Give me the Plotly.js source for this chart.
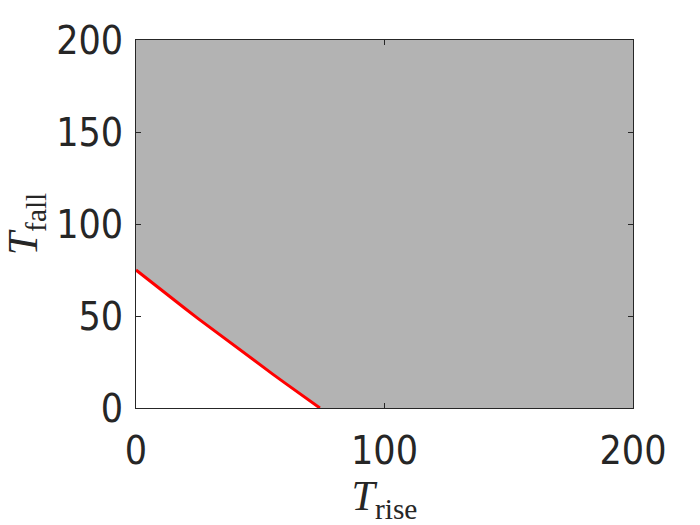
<!DOCTYPE html>
<html>
<head>
<meta charset="utf-8">
<script src="https://cdn.plot.ly/plotly-3.0.1.min.js"></script>
<style>html,body{margin:0;padding:0;background:#fff;}</style>
</head>
<body>
<div id="chart" style="width:700px;height:525px;"></div>
<script>
// Boundary curve (T_rise, T_fall)
const curveRise = [0, 5, 10, 15, 20, 25, 30, 35, 40, 45, 50, 55, 60, 65, 70, 74];
const curveFall = [75, 69.6, 64.3, 59.0, 53.8, 48.6, 43.5, 38.3, 33.3, 28.3, 23.3, 18.4, 13.5, 8.6, 3.9, 0];
// Axis ranges and ticks
const riseRange = [0, 200];
const fallRange = [0, 200];
const yTickVals = [0, 50, 100, 150, 200];
const xTickVals = [0, 100, 200];

// Gray region: above the curve up to the axis limits
const regionX = curveRise.concat([riseRange[1], riseRange[1], riseRange[0]]);
const regionY = curveFall.concat([fallRange[0], fallRange[1], fallRange[1]]);

const tickFont = {family: '"Liberation Sans Narrow", "DejaVu Sans Condensed", Arial, sans-serif', size: 39, color: '#262626'};
const titleFont = {family: '"Liberation Serif", "DejaVu Serif", serif', size: 42, color: '#262626'};

const traces = [
  {x: regionX, y: regionY, type: 'scatter', mode: 'none', fill: 'toself',
   fillcolor: '#b3b3b3', hoverinfo: 'skip', showlegend: false},
  {x: curveRise, y: curveFall, type: 'scatter', mode: 'lines',
   line: {color: '#ff0000', width: 3}, showlegend: false}
];

const layout = {
  width: 700, height: 525,
  margin: {l: 136, r: 67, t: 40, b: 117},
  paper_bgcolor: '#ffffff', plot_bgcolor: '#ffffff',
  showlegend: false,
  xaxis: {
    range: riseRange, tickvals: xTickVals, ticks: 'inside', ticklen: 5, tickcolor: '#262626',
    showline: true, linecolor: '#262626', linewidth: 1, mirror: 'ticks',
    showgrid: false, zeroline: false, tickfont: tickFont, ticklabelstandoff: 8,
    title: {text: '<i>T</i><sub>rise</sub>', font: titleFont, standoff: 4}
  },
  yaxis: {
    range: fallRange, tickvals: yTickVals, ticks: 'inside', ticklen: 5, tickcolor: '#262626',
    showline: true, linecolor: '#262626', linewidth: 1, mirror: 'ticks',
    showgrid: false, zeroline: false, tickfont: tickFont, ticklabelstandoff: 4,
    title: {text: '<i>T</i><sub>fall</sub>', font: titleFont, standoff: 5}
  }
};

Plotly.newPlot('chart', traces, layout, {staticPlot: true});
</script>
</body>
</html>
